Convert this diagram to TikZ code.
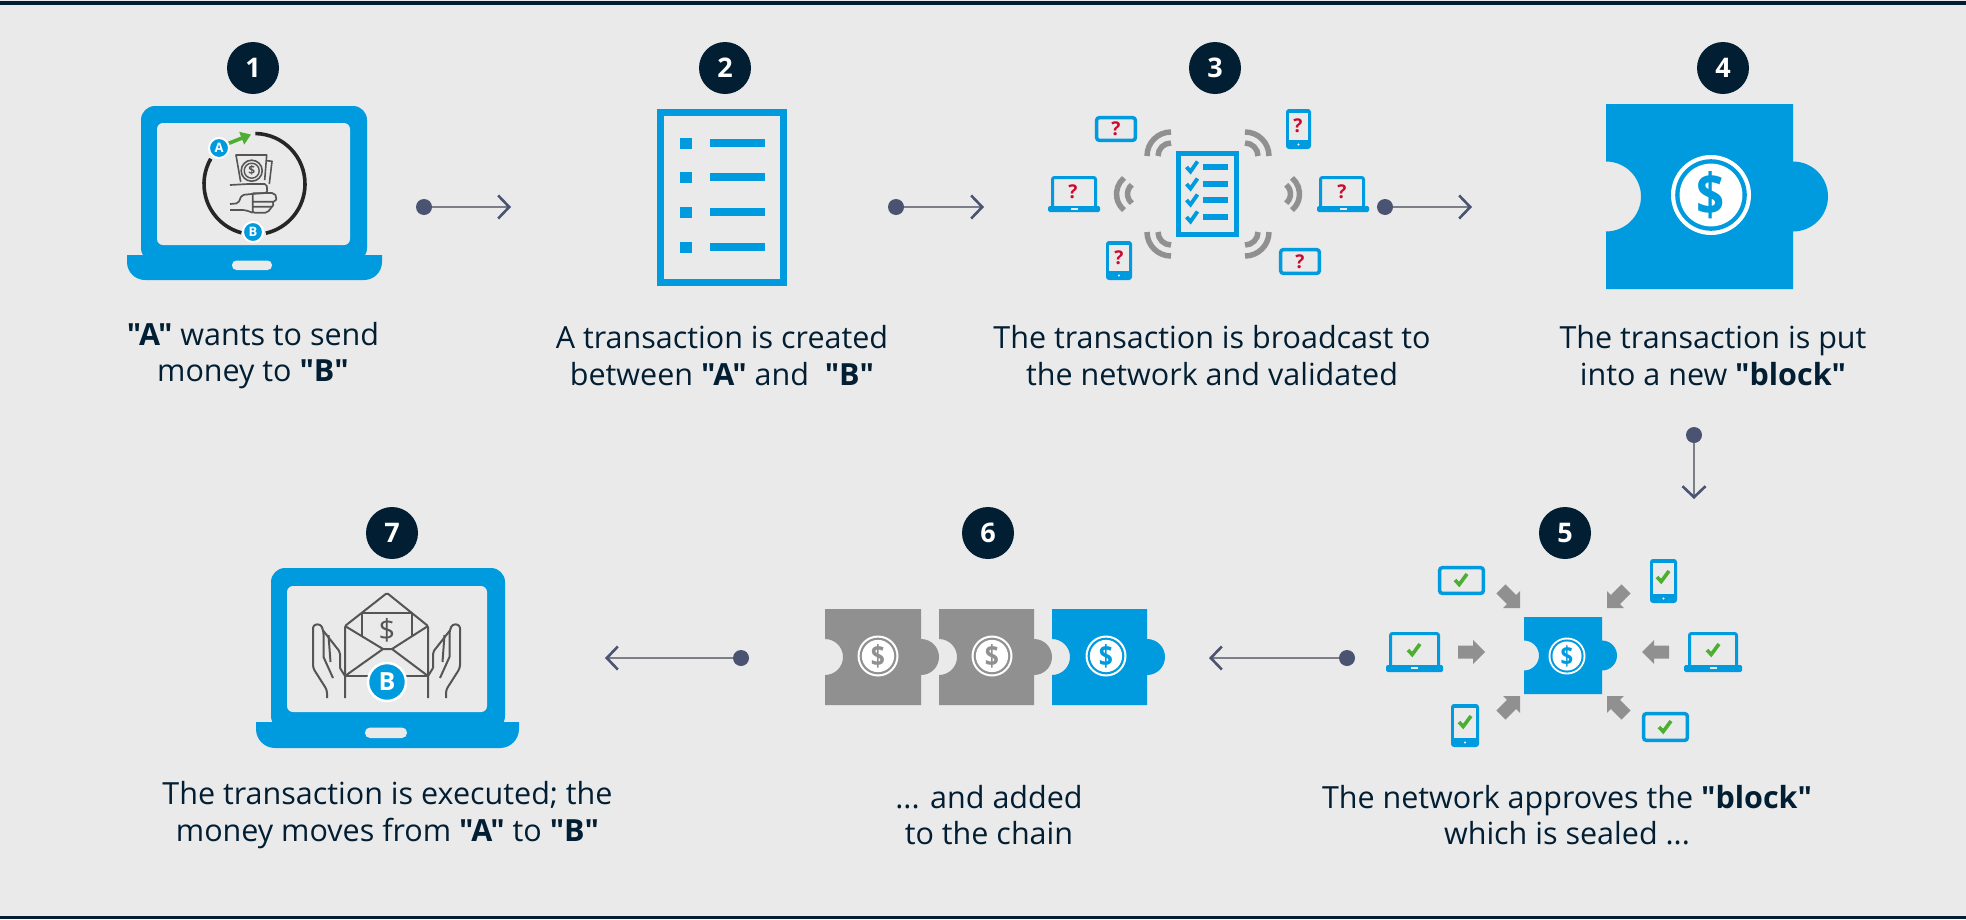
\documentclass[tikz,border=0pt]{standalone}
\usepackage{fontspec}
\setmainfont{Open Sans}
\newfontfamily\capfont{Open Sans}
\usetikzlibrary{arrows.meta}
\definecolor{bgc}{HTML}{EAEAEA}
\definecolor{navy}{HTML}{021E33}
\definecolor{blu}{HTML}{009ADE}
\definecolor{gry}{HTML}{909090}
\definecolor{redq}{HTML}{CC0A2F}
\definecolor{grn}{HTML}{4CAF32}
\definecolor{linec}{HTML}{7C7E8A}
\definecolor{headc}{HTML}{4B5373}
\definecolor{inkc}{HTML}{555555}
\newcount\qn
\newcommand{\numc}[4]{\node[numdot] (#1) at (#2,#3) {#4};}
\newcommand{\bigtop}[8]{% x0 x1 ytop sx0 sx1 sy0 sy1 (body)
  \fill[blu,rounded corners=14pt] (#1,#8) -- (#1,#3) -- (#2,#3) -- (#2,#8) -- cycle;
  \fill[bgc,rounded corners=6pt] (#4,#6) rectangle (#5,#7);}
\newcommand{\basebar}[5]{% x0 x1 y0 y1 r
  \fill[blu] (#1,#3) -- (#2,#3) -- (#2,#4-#5) arc[start angle=0,end angle=-90,radius=#5pt] -- (#1+#5,#4) arc[start angle=270,end angle=180,radius=#5pt] -- cycle;}
\newcommand{\minilaptop}[7]{% sx0 sx1 sy0 sy1 bx0 bx1 y1
  \draw[blu,line width=3pt,rounded corners=2pt,fill=bgc] (#1+1.5,#4) -- (#1+1.5,#3+1.5) -- (#2-1.5,#3+1.5) -- (#2-1.5,#4);
  \fill[blu,rounded corners=1.5pt] (#5,#4-1) rectangle (#6,#7);
  \fill[bgc] ({(#5+#6)/2-3.5},#4+.6) rectangle ({(#5+#6)/2+3.5},#4+2.6);}
\newcommand{\minitablet}[4]{%
  \draw[blu,line width=3.5pt,rounded corners=2.5pt,fill=bgc] (#1+1.7,#3+1.7) rectangle (#2-1.7,#4-1.7);}
\newcommand{\miniphone}[4]{%
  \fill[blu,rounded corners=3pt] (#1,#3) rectangle (#2,#4);
  \fill[bgc] (#1+3,#3+3.5) rectangle (#2-3,#4-9);
  \fill[white] ({(#1+#2)/2},#4-4.5) circle[radius=1.2pt];}
\newcommand{\qmark}[2]{\global\advance\qn by 1
  \node[qtext] (q\the\qn) at (#1,#2) {?};}
\newcommand{\okmark}[2]{\draw[grn,line width=3.6pt] (#1-6,#2) -- (#1-1.8,#2+4.5) -- (#1+6,#2-6);}
\newcommand{\bluecheck}[2]{\draw[blu,line width=3.8pt] (#1-5.5,#2) -- (#1-1.5,#2+4.5) -- (#1+5.5,#2-5.5);}
\newcommand{\puzz}[6]{% x0 x1 y0 y1 r colour
  \fill[#6] (#1,#3) -- (#2,#3) -- (#2,{(#3+#4)/2-#5}) arc[start angle=90,end angle=-90,radius=#5pt]
    -- (#2,#4) -- (#1,#4) -- (#1,{(#3+#4)/2+#5}) arc[start angle=-90,end angle=90,radius=#5pt] -- cycle;}
\newcommand{\coin}[6]{% name x y r fontsize colour
  \fill[white] (#2,#3) circle[radius=#4pt];
  \fill[#6] (#2,#3) circle[radius=.895*#4pt];
  \fill[white] (#2,#3) circle[radius=.785*#4pt];
  \node[#6,inner sep=0pt,font=\bfseries\fontsize{#5}{#5}\selectfont] (#1) at (#2,#3) {\scalebox{.85}[1]{\$}};}
\newcommand{\gryarrow}[5]{% tailx taily tipx tipy rotation
  \begin{scope}[shift={(#3,#4)},rotate=#5]
  \fill[gry] (-#1,-6.5) -- (-12,-6.5) -- (-12,-12) -- (0,0) -- (-12,12) -- (-12,6.5) -- (-#1,6.5) -- cycle;
  \end{scope}}
\tikzset{
  numdot/.style={circle,fill=navy,text=white,minimum size=52pt,inner sep=0pt,font=\bfseries\fontsize{27}{27}\selectfont},
  qtext/.style={text=redq,inner sep=0pt,font=\bfseries\fontsize{19}{19}\selectfont},
  caption/.style={text=navy,align=center,inner sep=0pt,font=\capfont\fontsize{30.5}{36.6}\selectfont},
  conndot/.style={circle,fill=headc,minimum size=16pt,inner sep=0pt},
  conn/.style={draw=linec,line width=2pt,-{Straight Barb[color=headc,length=11pt,width=23pt,line width=2.6pt]}},
  wave/.style={draw=gry,line width=5.5pt},
  ink/.style={draw=inkc,line width=2pt,line join=round}
}
\begin{document}
\begin{tikzpicture}[x=1pt,y=-1pt]
\useasboundingbox (0,0) rectangle (1966,919);
\fill[bgc] (0,0) rectangle (1966,919);
\fill[navy] (0,0.5) rectangle (1966,5);
\fill[navy] (0,916) rectangle (1966,919);
% numbers
\numc{n1}{253}{68}{1}
\numc{n2}{725}{68}{2}
\numc{n3}{1215}{68}{3}
\numc{n4}{1723}{68}{4}
\numc{n5}{1565}{533}{5}
\numc{n6}{988}{533}{6}
\numc{n7}{392}{533}{7}
% ---- step 1 laptop
\bigtop{141}{367}{106}{157}{350}{123}{245}{262}
\basebar{127}{382}{255}{280}{18}
\fill[bgc,rounded corners=4.5pt] (232,260.5) rectangle (272,270);
\draw[draw=black!85,line width=3.6pt] ([shift={(89:50.5pt)}]254.5,184) arc[start angle=89,end angle=-77,radius=50.5pt];
\draw[draw=black!85,line width=3.6pt] ([shift={(-105:50.5pt)}]254.5,184) arc[start angle=-105,end angle=-210,radius=50.5pt];
\draw[grn,line width=3.6pt,-{Triangle[length=10pt,width=13pt]}] (227,144) -- (251,134.5);
\node[circle,fill=blu,draw=white,line width=2pt,minimum size=20pt,inner sep=0pt,text=white,font=\bfseries\fontsize{13}{13}\selectfont] (ba) at (219,148) {A};
\node[circle,fill=blu,draw=white,line width=2pt,minimum size=20pt,inner sep=0pt,text=white,font=\bfseries\fontsize{13}{13}\selectfont] (bb) at (253,232) {B};
% hand with money
\draw[ink,line width=1.6pt] (240.7,182) -- (236,155) -- (266.7,155) -- (264.7,180);
\draw[ink,line width=1.6pt] (266.7,160.7) -- (272,161.3) -- (269.3,184);
\draw[ink,line width=1.6pt] (251.7,170.7) circle[radius=10.5pt];
\draw[ink,line width=1.4pt] (251.7,170.7) circle[radius=7.5pt];
\node[inkc,inner sep=0pt,font=\bfseries\fontsize{12}{12}\selectfont] (hd) at (251.7,170.7) {\$};
\draw[ink,line width=1.7pt,rounded corners=2pt] (230,185) -- (248,184) -- (266.7,184) -- (267.3,192.7) -- (251.7,194) -- (241.7,195) -- (238.3,203.3) -- (230,204);
\draw[ink,line width=1.7pt,rounded corners=2pt] (252.7,193.3) -- (274,193) -- (276.7,197) -- (275.7,201.7) -- (252.7,201.7);
\draw[ink,line width=1.7pt,rounded corners=2pt] (273,201.7) -- (273.3,206.7) -- (252.7,206.7);
\draw[ink,line width=1.7pt,rounded corners=2pt] (272,206.7) -- (267.3,212.7) -- (252.7,212.7) -- (252.7,193.3);
\draw[ink,line width=1.7pt,rounded corners=2pt] (230,210) -- (245,210) -- (252.7,212.7);
% ---- step 2 doc
\draw[blu,line width=7pt] (660.5,112.5) rectangle (783.5,282.5);
\foreach \yy in {143,177,212,247} {
  \fill[blu] (680,\yy-5.5) rectangle (692,\yy+5.5);
  \fill[blu] (710,\yy-3.7) rectangle (765,\yy+3.7);
}
% ---- step 3
\draw[blu,line width=4.6pt] (1178.3,153.3) rectangle (1236.7,234.7);
\foreach \yy in {167,184,200,217} {
  \bluecheck{1192}{\yy}
  \fill[blu] (1203,\yy-3) rectangle (1228,\yy+3);
}
\foreach \rr in {24,13} {
  \draw[wave] ([shift={(180:\rr pt)}]1171,156) arc[start angle=180,end angle=90,radius=\rr pt];
  \draw[wave] ([shift={(0:\rr pt)}]1245,156) arc[start angle=0,end angle=90,radius=\rr pt];
  \draw[wave] ([shift={(180:\rr pt)}]1171,232) arc[start angle=180,end angle=270,radius=\rr pt];
  \draw[wave] ([shift={(0:\rr pt)}]1245,232) arc[start angle=0,end angle=-90,radius=\rr pt];
}
\draw[wave] ([shift={(130:21pt)}]1137.5,194) arc[start angle=130,end angle=230,radius=21pt];
\draw[wave] ([shift={(130:12pt)}]1139.5,194) arc[start angle=130,end angle=230,radius=12pt];
\draw[wave] ([shift={(50:21pt)}]1278.5,194) arc[start angle=50,end angle=-50,radius=21pt];
\draw[wave] ([shift={(50:12pt)}]1278.5,194) arc[start angle=50,end angle=-50,radius=12pt];
\minitablet{1095}{1137}{116}{142}\qmark{1116}{129}
\miniphone{1286}{1311}{109}{149}\qmark{1298}{126}
\minilaptop{1319}{1365}{176}{207}{1317}{1369}{212}\qmark{1342}{192}
\minilaptop{1051}{1097}{176}{207}{1048}{1100}{212}\qmark{1073}{192}
\miniphone{1106}{1132}{241}{280}\qmark{1119}{258}
\minitablet{1279}{1321}{248}{275}\qmark{1300}{262}
% ---- step 4
\puzz{1606}{1793}{104}{289}{35}{blu}
\coin{c4}{1711}{195}{40}{58}{blu}
% ---- step 5
\puzz{1524}{1602}{617}{694}{15}{blu}
\coin{c5}{1567}{656}{18.5}{26}{blu}
\gryarrow{27}{0}{1485}{652}{0}
\gryarrow{27}{0}{1642}{652}{180}
\gryarrow{27}{0}{1520}{608}{-45}
\gryarrow{27}{0}{1607}{608}{-135}
\gryarrow{27}{0}{1520}{696}{45}
\gryarrow{27}{0}{1607}{696}{135}
\minitablet{1438}{1485}{566}{595}\okmark{1461}{580}
\miniphone{1650}{1677}{559}{603}\okmark{1663}{577}
\minilaptop{1389}{1440}{632}{666}{1386}{1443}{672}\okmark{1414}{650}
\minilaptop{1688}{1738}{632}{666}{1684}{1742}{672}\okmark{1713}{650}
\miniphone{1451}{1479}{704}{747}\okmark{1465}{722}
\minitablet{1642}{1689}{712}{742}\okmark{1665}{727}
% ---- step 6
\puzz{825}{921}{609}{705}{18}{gry}
\coin{c6a}{878}{656}{20.5}{29}{gry}
\puzz{939}{1034}{609}{705}{18}{gry}
\coin{c6b}{992}{656}{20.5}{29}{gry}
\puzz{1052}{1147}{609}{705}{18}{blu}
\coin{c6c}{1106}{656}{20.5}{29}{blu}
% ---- step 7 laptop
\bigtop{271}{505}{568}{287}{487}{586}{712}{730}
\basebar{256}{519}{722}{748}{19}
\fill[bgc,rounded corners=5pt] (365,727.5) rectangle (407,738);
\draw[ink,rounded corners=1.5pt] (345,698) -- (345,626) -- (387,593) -- (428,626) -- (428,698);
\draw[ink] (345,676) -- (428,676);
\draw[ink] (345,676) -- (383,649) -- (392,649) -- (428,676);
\draw[ink] (345,626) -- (383,649) (392,649) -- (428,626);
\draw[ink] (362,637) -- (362,613) -- (412,613) -- (412,637);
\node[inkc,inner sep=0pt,font=\fontsize{29}{29}\selectfont] (d7) at (387,630) {\$};
\foreach \ss in {1,-1} {
  \begin{scope}[shift={(386.5,0)},xscale=\ss]
  \draw[ink,rounded corners=3pt] (-59.5,698) -- (-59.5,690) -- (-73.5,668) -- (-73.5,625) -- (-66,624) -- (-63,631) -- (-63,657);
  \draw[ink,rounded corners=2pt] (-63,631) -- (-46.5,652) -- (-46.5,668);
  \draw[ink] (-58,635) -- (-56,662);
  \draw[ink] (-46.5,668) -- (-41.5,676);
  \draw[ink] (-63,657) -- (-53.5,678);
  \end{scope}
}
\node[circle,fill=blu,draw=white,line width=2.5pt,minimum size=38pt,inner sep=0pt,text=white,font=\bfseries\fontsize{25}{25}\selectfont] (b7) at (387,682) {B};
% connectors
\node[conndot] (d1) at (424,207) {};  \coordinate (e1) at (511,207);
\node[conndot] (d2) at (896,207) {};  \coordinate (e2) at (984,207);
\node[conndot] (d3) at (1385,207) {}; \coordinate (e3) at (1472,207);
\node[conndot] (d4) at (1694,435) {}; \coordinate (e4) at (1694,499);
\node[conndot] (d5) at (1347,658) {}; \coordinate (e5) at (1209,658);
\node[conndot] (d6) at (741,658) {};  \coordinate (e6) at (605,658);
\foreach \a/\b in {d1/e1,d2/e2,d3/e3,d4/e4,d5/e5,d6/e6} \draw[conn] (\a) -- (\b);
% captions
\node[caption] (t1) at (253,355.5) {\textbf{"A"} wants to send\\money to \textbf{"B"}};
\node[caption] (t2) at (722,355.5) {A transaction is created\\between \textbf{"A"} and\ \ \textbf{"B"}};
\node[caption] (t3) at (1212,355.5) {The transaction is broadcast to\\the network and validated};
\node[caption] (t4) at (1713,355.5) {The transaction is put\\into a new \textbf{"block"}};
\node[caption] (t5) at (1567,815) {The network approves the \textbf{"block"}\\which is sealed ...};
\node[caption] (t6) at (989,815) {... and added\\to the chain};
\node[caption] (t7) at (387.5,815) {The transaction is executed; the\\money moves from \textbf{"A"} to \textbf{"B"}};
\end{tikzpicture}
\end{document}
